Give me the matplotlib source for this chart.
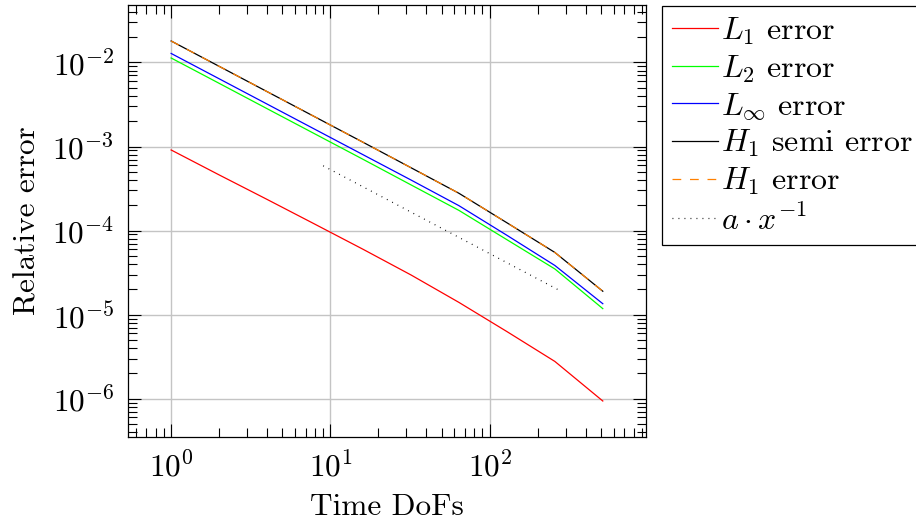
import numpy as np
import matplotlib
matplotlib.use("Agg")
import matplotlib.pyplot as plt
from matplotlib.ticker import LogLocator, LogFormatterMathtext, NullFormatter

plt.rcParams['font.family'] = 'serif'
plt.rcParams['font.serif'] = ['cmr10']
plt.rcParams['mathtext.fontset'] = 'cm'
plt.rcParams['axes.formatter.use_mathtext'] = True
plt.rcParams['font.size'] = 22.5

# time degrees of freedom
dofs = [1, 2, 4, 8, 16, 32, 64, 128, 256, 512]

# relative errors
err_l1 = [9.1e-4, 4.6e-4, 2.35e-4, 1.19e-4, 6.0e-5, 2.97e-5, 1.40e-5, 6.3e-6, 2.78e-6, 9.4e-7]
err_l2 = [1.13e-2, 5.65e-3, 2.82e-3, 1.41e-3, 7.05e-4, 3.5e-4, 1.74e-4, 7.8e-5, 3.5e-5, 1.18e-5]
err_linf = [1.28e-2, 6.4e-3, 3.2e-3, 1.6e-3, 8.0e-4, 4.0e-4, 1.98e-4, 8.8e-5, 3.85e-5, 1.35e-5]
err_h1_semi = [1.80e-2, 9.0e-3, 4.5e-3, 2.25e-3, 1.125e-3, 5.6e-4, 2.78e-4, 1.24e-4, 5.5e-5, 1.9e-5]
err_h1 = [1.80e-2, 9.0e-3, 4.5e-3, 2.25e-3, 1.125e-3, 5.6e-4, 2.78e-4, 1.24e-4, 5.5e-5, 1.9e-5]

# reference slope line a * x^-1
ref_x = [9, 280]
ref_y = [5.9e-4, 1.9e-5]

fig = plt.figure(figsize=(9.16, 5.25), dpi=100)
ax = fig.add_axes([0.1397, 0.1676, 0.5655, 0.8229])

lw = 0.9
ax.plot(dofs, err_l1, color='#ff0000', lw=lw, label=r'$L_1$ error')
ax.plot(dofs, err_l2, color='#00ff00', lw=lw, label=r'$L_2$ error')
ax.plot(dofs, err_linf, color='#0000ff', lw=lw, label=r'$L_\infty$ error')
ax.plot(dofs, err_h1_semi, color='black', lw=lw, label=r'$H_1$ semi error')
ax.plot(dofs, err_h1, color='#ff8000', lw=lw, ls=(0, (7, 7)), label=r'$H_1$ error')
ax.plot(ref_x, ref_y, color='black', lw=lw, ls=(0, (0.7, 4.1)), label=r'$a \cdot x^{-1}$')

ax.set_xscale('log')
ax.set_yscale('log')

# pgfplots style: enlarge limits by 10% in log space
allx = np.log10(dofs)
ally = np.log10(err_l1 + err_l2 + err_linf + err_h1_semi + err_h1)
ex = 0.1 * (allx.max() - allx.min())
ey = 0.1 * (ally.max() - ally.min())
ax.set_xlim(10 ** (allx.min() - ex), 10 ** (allx.max() + ex))
ax.set_ylim(10 ** (ally.min() - ey), 10 ** (ally.max() + ey))

for axis in (ax.xaxis, ax.yaxis):
    axis.set_major_locator(LogLocator(base=10, numticks=20))
    axis.set_minor_locator(LogLocator(base=10, subs=np.arange(2, 10), numticks=20))
    axis.set_major_formatter(LogFormatterMathtext())
    axis.set_minor_formatter(NullFormatter())

ax.tick_params(which='both', direction='in', top=True, right=True, width=0.8, labelsize=22.5)
ax.tick_params(which='major', length=9.4, pad=10)
ax.tick_params(which='minor', length=6.3)
for s in ax.spines.values():
    s.set_linewidth(0.9)

ax.grid(True, which='major', color='#c4c4c4', lw=1.0)
ax.set_axisbelow(True)

ax.set_xlabel('Time DoFs', fontsize=22.5, labelpad=8)
ax.set_ylabel('Relative error', fontsize=22.5, labelpad=8)

leg = ax.legend(loc='upper left', bbox_to_anchor=(662 / 916, 1 - 5.7 / 525),
                bbox_transform=fig.transFigure, fancybox=False, framealpha=1,
                edgecolor='black', fontsize=23, handlelength=1.45, handletextpad=0.1,
                borderpad=0.3, labelspacing=0.2, borderaxespad=0)
leg.get_frame().set_linewidth(0.9)

fig.savefig('out.png', dpi=100)
